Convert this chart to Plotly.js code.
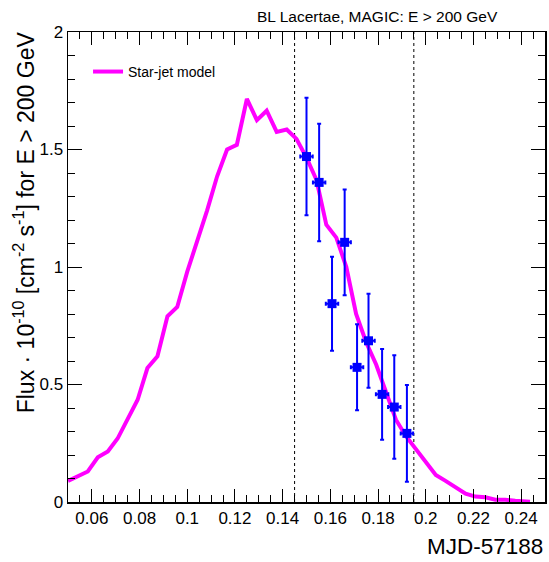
<!DOCTYPE html>
<html>
<head>
<meta charset="utf-8">
<script src="https://cdn.plot.ly/plotly-3.0.1.min.js"></script>
<style>html,body{margin:0;padding:0;background:#fff;}#chart{width:549px;height:562px;}</style>
</head>
<body>
<div id="chart"></div>
<script>
// Star-jet model curve
const modelX = [0.0500,0.0542,0.0583,0.0625,0.0667,0.0708,0.0750,0.0792,0.0833,0.0875,0.0917,0.0958,
                0.1000,0.1042,0.1083,0.1125,0.1167,0.1208,0.1250,0.1292,0.1333,0.1375,0.1417,0.1458,
                0.1500,0.1542,0.1583,0.1625,0.1667,0.1708,0.1750,0.1792,0.1833,0.1875,0.1917,0.1958,
                0.2000,0.2042,0.2083,0.2125,0.2167,0.2208,0.2250,0.2292,0.2333,0.2375,0.2437];
const modelY = [0.09,0.11,0.13,0.19,0.215,0.27,0.35,0.435,0.57,0.62,0.79,0.83,
                0.98,1.11,1.24,1.385,1.50,1.52,1.715,1.625,1.665,1.575,1.585,1.545,
                1.465,1.37,1.18,1.125,1.00,0.80,0.68,0.585,0.47,0.35,0.28,0.225,
                0.175,0.115,0.09,0.06,0.035,0.023,0.02,0.01,0.01,0.005,0.001];

// MAGIC data points
const dataX    = [0.1500,0.1553,0.1607,0.1660,0.1712,0.1760,0.1817,0.1868,0.1921];
const dataY    = [1.47,1.36,0.844,1.105,0.573,0.686,0.458,0.404,0.292];
const dataErrY = [0.25,0.25,0.20,0.225,0.183,0.20,0.193,0.22,0.206];
const dataErrX = [0.0026,0.0026,0.0026,0.0026,0.0026,0.0026,0.0026,0.0026,0.0026];

// vertical dashed markers
const markerLines = [0.145, 0.195];

const FONT = 'Liberation Sans, Arial, Helvetica, sans-serif';

const traces = [
  {
    x: modelX, y: modelY, type: 'scatter', mode: 'lines', name: 'Star-jet model',
    line: {color: '#ff00ff', width: 4}, showlegend: true
  },
  {
    x: dataX, y: dataY, type: 'scatter', mode: 'markers', name: 'MAGIC',
    marker: {symbol: 'square', size: 9, color: '#0000ff'},
    error_y: {type: 'data', array: dataErrY, visible: true, color: '#0000ff', thickness: 2, width: 2},
    error_x: {type: 'data', array: dataErrX, visible: true, color: '#0000ff', thickness: 2, width: 2},
    showlegend: false
  }
];

const shapes = markerLines.map(v => ({
  type: 'line', xref: 'x', yref: 'y', x0: v, x1: v, y0: 0, y1: 2,
  line: {color: '#000', width: 1, dash: '3px,3px'}, layer: 'below'
}));

const layout = {
  width: 549, height: 562,
  margin: {l: 68, r: 4, t: 32, b: 60, pad: 0},
  paper_bgcolor: '#fff', plot_bgcolor: '#fff',
  font: {family: FONT, color: '#000', size: 16},
  showlegend: true,
  legend: {x: 0.042, y: 0.915, xanchor: 'left', yanchor: 'middle', itemwidth: 30,
           bgcolor: 'rgba(0,0,0,0)', font: {family: FONT, size: 14, color: '#000'}},
  xaxis: {
    range: [0.05, 0.25], tick0: 0, dtick: 0.02, ticks: 'inside', ticklen: 13, tickwidth: 1,
    tickcolor: '#000', showline: true, linecolor: '#000', linewidth: 1.5, mirror: 'allticks',
    showgrid: false, zeroline: false, tickfont: {family: FONT, size: 17, color: '#000'},
    minor: {dtick: 0.005, ticks: 'inside', ticklen: 7, tickcolor: '#000', tickwidth: 1, showgrid: false}
  },
  yaxis: {
    range: [0, 2], tick0: 0, dtick: 0.5, ticks: 'inside', ticklen: 14, tickwidth: 1,
    tickcolor: '#000', showline: true, linecolor: '#000', linewidth: 1.5, mirror: 'allticks',
    showgrid: false, zeroline: false, tickfont: {family: FONT, size: 17, color: '#000'},
    minor: {dtick: 0.1, ticks: 'inside', ticklen: 7, tickcolor: '#000', tickwidth: 1, showgrid: false}
  },
  shapes: shapes,
  annotations: [
    {text: 'BL Lacertae, MAGIC: E > 200 GeV', xref: 'paper', yref: 'paper',
     x: 0.906, y: 1.034, xanchor: 'right', yanchor: 'middle', showarrow: false,
     font: {family: FONT, size: 15.5, color: '#000'}},
    {text: 'MJD-57188', xref: 'paper', yref: 'paper', x: 1.0, y: -0.0957,
     xanchor: 'right', yanchor: 'middle', showarrow: false,
     font: {family: FONT, size: 22.5, color: '#000'}},
    {text: 'Flux · 10<sup>-10</sup> [cm<sup>-2</sup> s<sup>-1</sup>] for E > 200 GeV',
     xref: 'paper', yref: 'paper', x: -0.092, y: 1.006, xanchor: 'center', yanchor: 'top',
     textangle: -90, showarrow: false, font: {family: FONT, size: 23, color: '#000'}}
  ]
};

Plotly.newPlot('chart', traces, layout, {displayModeBar: false, staticPlot: true});
</script>
</body>
</html>
